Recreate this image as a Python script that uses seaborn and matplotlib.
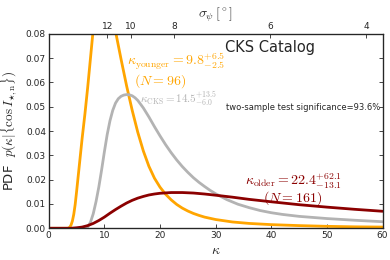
import numpy as np
import pandas as pd
import matplotlib
matplotlib.use("Agg")
import matplotlib.pyplot as plt
import seaborn as sns

# posterior curves (kappa, pdf)
k_young = [0, 3.5, 3.6, 3.8, 4.0, 4.25, 4.5, 4.75, 5, 5.5, 6, 6.5, 7, 7.5, 8, 8.5, 9, 9.5, 10,
           10.5, 11, 11.5, 12, 13, 14, 15, 16, 17, 18, 19, 20, 21, 22, 23, 24, 25, 26, 27, 28,
           30, 33, 36, 40, 45, 50, 55, 60]
p_young = [0, 0, 0.0002, 0.0005, 0.0013, 0.003, 0.0058, 0.0098, 0.015, 0.026, 0.037, 0.047,
           0.058, 0.070, 0.082, 0.093, 0.101, 0.106, 0.107, 0.104, 0.098, 0.090, 0.081, 0.0695,
           0.0585, 0.0485, 0.0395, 0.0318, 0.0255, 0.0206, 0.0169, 0.0140, 0.0117, 0.0098,
           0.0083, 0.0071, 0.0061, 0.0053, 0.0046, 0.0036, 0.0026, 0.0020, 0.0015, 0.0011,
           0.0008, 0.0006, 0.0005]

k_cks = [0, 6.5, 7, 7.5, 8, 8.5, 9, 9.5, 10, 10.5, 11, 11.5, 12, 12.5, 13, 13.5, 14, 14.5, 15,
         15.5, 16, 17, 18, 19, 20, 21, 22, 23, 24, 25, 26, 27, 28, 29, 30, 32, 34, 36, 38, 40,
         42, 45, 50, 55, 60]
p_cks = [0, 0, 0.0005, 0.0025, 0.006, 0.011, 0.017, 0.024, 0.0315, 0.0385, 0.0442, 0.0485,
         0.0515, 0.0533, 0.0543, 0.0548, 0.0550, 0.0549, 0.0545, 0.0537, 0.0526, 0.0495,
         0.0458, 0.0418, 0.0380, 0.0344, 0.0311, 0.0281, 0.0254, 0.0230, 0.0208, 0.0189,
         0.0172, 0.0156, 0.0142, 0.0118, 0.0099, 0.0085, 0.0073, 0.0064, 0.0057, 0.0049,
         0.0040, 0.0033, 0.0027]

k_old = [0, 4, 5, 6, 7, 8, 9, 10, 11, 12, 13, 14, 15, 16, 17, 18, 19, 20, 22, 24, 26, 28, 30,
         33, 36, 40, 45, 50, 55, 60]
p_old = [0, 0, 0.0002, 0.0005, 0.0011, 0.002, 0.0032, 0.0046, 0.0062, 0.0077, 0.0091, 0.0104,
         0.0115, 0.0124, 0.0131, 0.0137, 0.0141, 0.0144, 0.0147, 0.0147, 0.0145, 0.0141, 0.0136,
         0.0128, 0.0119, 0.0109, 0.0097, 0.0087, 0.0078, 0.0070]

# top axis: sigma_psi labels and the kappa where they sit
sigma_labels = [12, 10, 8, 6, 4]
sigma_kappa = [10.5, 14.7, 22.6, 39.8, 57.0]

sns.set_style("ticks")
plt.rcParams['font.family'] = ['DejaVu Sans']
plt.rcParams['mathtext.fontset'] = 'cm'

c_young = '#ffa500'
c_cks = '#b3b3b3'
c_old = '#8b0000'

fig = plt.figure(figsize=(3.9, 2.6), dpi=100)
ax = fig.add_axes([0.125, 0.122, 0.856, 0.748])

sns.lineplot(x=k_young, y=p_young, ax=ax, color=c_young, lw=2.0)
sns.lineplot(x=k_cks, y=p_cks, ax=ax, color=c_cks, lw=2.0)
sns.lineplot(x=k_old, y=p_old, ax=ax, color=c_old, lw=2.0)

ax.set_xlim(0, 60)
ax.set_ylim(0, 0.08)
ax.set_xticks([0, 10, 20, 30, 40, 50, 60])
ax.set_yticks(np.arange(0, 0.081, 0.01))
ax.set_yticklabels([f"{v:.2f}" for v in np.arange(0, 0.081, 0.01)])
ax.tick_params(direction='in', labelsize=6.5, length=3, width=0.6, right=True, pad=2)
for s in ax.spines.values():
    s.set_linewidth(0.9)
    s.set_visible(True)
ax.set_xlabel(r"$\kappa$", fontsize=10, labelpad=2)
ax.set_ylabel(r"PDF  $p(\kappa|\{\cos I_{\star,\rm n}\})$", fontsize=9.5, labelpad=4)

ax2 = ax.twiny()
ax2.set_xlim(ax.get_xlim())
ax2.set_xticks(sigma_kappa)
ax2.set_xticklabels([str(s) for s in sigma_labels])
ax2.tick_params(direction='in', labelsize=6.5, length=3, width=0.6, pad=2)
ax2.set_xlabel(r"$\sigma_\psi\,[^\circ]$", fontsize=10, labelpad=3)

ax.text(39.8, 0.0745, "CKS Catalog", fontsize=10.5, ha='center', va='center')
ax.text(31.9, 0.0495, "two-sample test significance=93.6%", fontsize=6, ha='left', va='center')
ax.text(14.0, 0.0670, r"$\kappa_{\rm younger}=9.8^{+6.5}_{-2.5}$", color=c_young,
        fontsize=10, ha='left', va='baseline')
ax.text(20.0, 0.0590, r"$(N=96)$", color=c_young, fontsize=10, ha='center', va='baseline')
ax.text(16.4, 0.0511, r"$\kappa_{\rm CKS}=14.5^{+13.5}_{-6.0}$", color=c_cks,
        fontsize=8, ha='left', va='baseline')
ax.text(35.3, 0.0177, r"$\kappa_{\rm older}=22.4^{+62.1}_{-13.1}$", color=c_old,
        fontsize=10, ha='left', va='baseline')
ax.text(43.9, 0.0110, r"$(N=161)$", color=c_old, fontsize=10, ha='center', va='baseline')

fig.savefig("out.png", dpi=100)
